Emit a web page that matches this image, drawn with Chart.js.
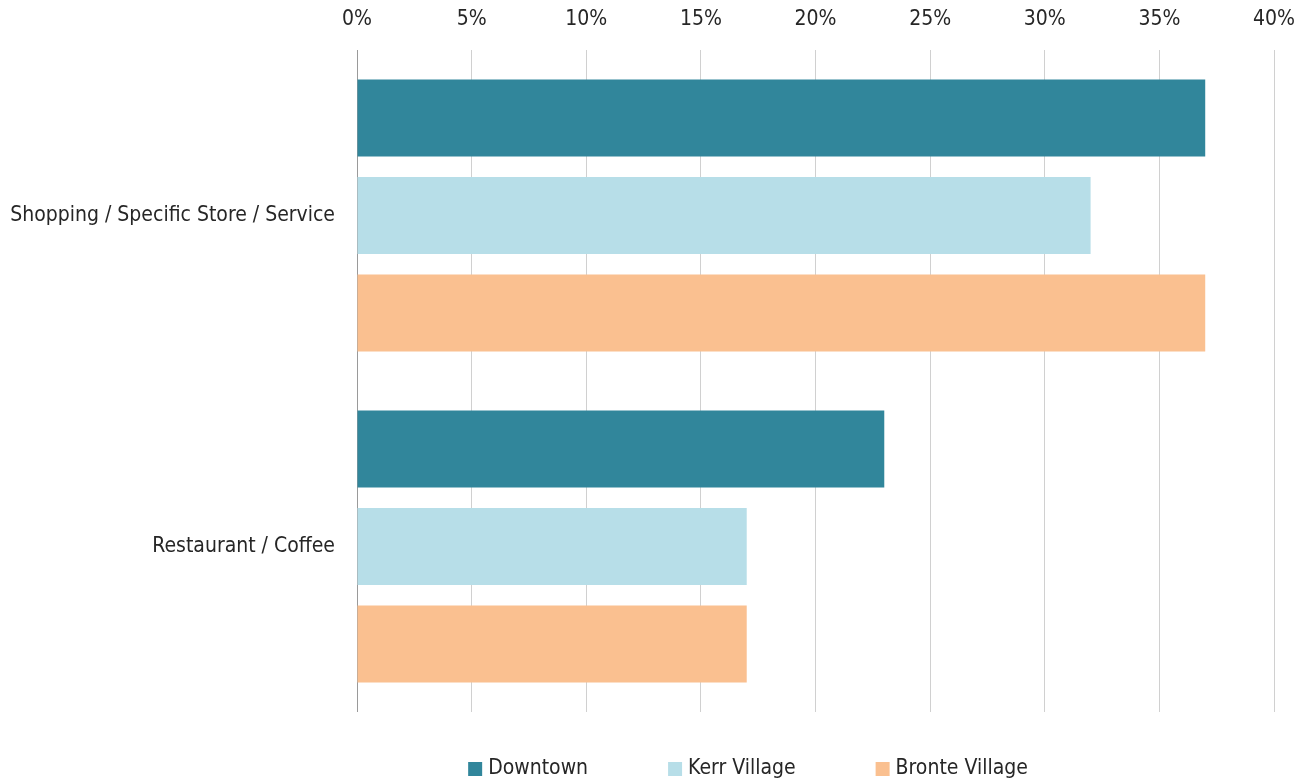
<!DOCTYPE html>
<html>
<head>
<meta charset="utf-8">
<script src="https://cdn.jsdelivr.net/npm/chart.js@4.4.0/dist/chart.umd.min.js"></script>
<style>
  html, body { margin: 0; padding: 0; background: #fff; }
  #wrap { width: 1298px; height: 782px; }
</style>
</head>
<body>
<div id="wrap"><canvas id="chart"></canvas></div>
<script>
// data
const categories = ['Shopping / Specific Store / Service', 'Restaurant / Coffee'];
const seriesNames = ['Downtown', 'Kerr Village', 'Bronte Village'];
const downtown = [37, 23];
const kerrVillage = [32, 17];
const bronteVillage = [37, 17];
const xTicks = [0, 5, 10, 15, 20, 25, 30, 35, 40];

const colors = ['#31869b', '#b7dee8', '#fac090'];
const fontFamily = '"DejaVu Sans Condensed", "Liberation Sans Narrow", sans-serif';

// simple legend drawn under the plot, like the original
const bottomLegend = {
    id: 'bottomLegend',
    afterDraw(chart) {
        const ctx = chart.ctx;
        const box = 14, gap = 6, spacing = 80;
        ctx.save();
        ctx.font = '21px ' + fontFamily;
        ctx.textBaseline = 'middle';
        const items = chart.data.datasets.map(ds => ({
            text: ds.label, color: ds.backgroundColor,
            w: box + gap + ctx.measureText(ds.label).width
        }));
        let total = items.reduce((s, it) => s + it.w, 0) + spacing * (items.length - 1);
        let x = 748 - total / 2;
        const y = 769;
        items.forEach(it => {
            ctx.fillStyle = it.color;
            ctx.fillRect(x, y - box / 2, box, box);
            ctx.fillStyle = '#262626';
            ctx.fillText(it.text, x + box + gap, y);
            x += it.w + spacing;
        });
        ctx.restore();
    }
};

const datasets = [downtown, kerrVillage, bronteVillage].map((vals, i) => ({
    label: seriesNames[i],
    data: vals,
    backgroundColor: colors[i],
    borderWidth: 0,
    categoryPercentage: 0.884,
    barPercentage: 0.79
}));

let ctx = document.getElementById('chart').getContext('2d');
new Chart(ctx, {
    type: 'bar',
    data: { labels: categories, datasets: datasets },
    plugins: [bottomLegend],
    options: {
        indexAxis: 'y',
        responsive: true,
        maintainAspectRatio: false,
        animation: false,
        layout: { padding: { top: 0, right: 24, bottom: 70, left: 0 } },
        plugins: {
            legend: { display: false },
            tooltip: { enabled: false }
        },
        scales: {
            x: {
                position: 'top',
                min: 0,
                max: 40,
                afterFit: scale => {
                    scale.height = 50;
                    scale.paddingLeft = 0;
                    scale.paddingRight = 0;
                },
                afterBuildTicks: scale => { scale.ticks = xTicks.map(v => ({ value: v })); },
                border: { display: false },
                grid: {
                    drawTicks: false,
                    lineWidth: 1,
                    color: c => c.index === 0 ? '#9a9a9a' : '#d0d0d0'
                },
                ticks: {
                    padding: 18,
                    color: '#262626',
                    font: { family: fontFamily, size: 21 },
                    callback: v => v + '%'
                }
            },
            y: {
                afterFit: scale => { scale.width = 357; },
                border: { display: false },
                grid: { display: false, drawTicks: false },
                ticks: {
                    padding: 22,
                    color: '#262626',
                    font: { family: fontFamily, size: 21 }
                }
            }
        }
    }
});
</script>
</body>
</html>
